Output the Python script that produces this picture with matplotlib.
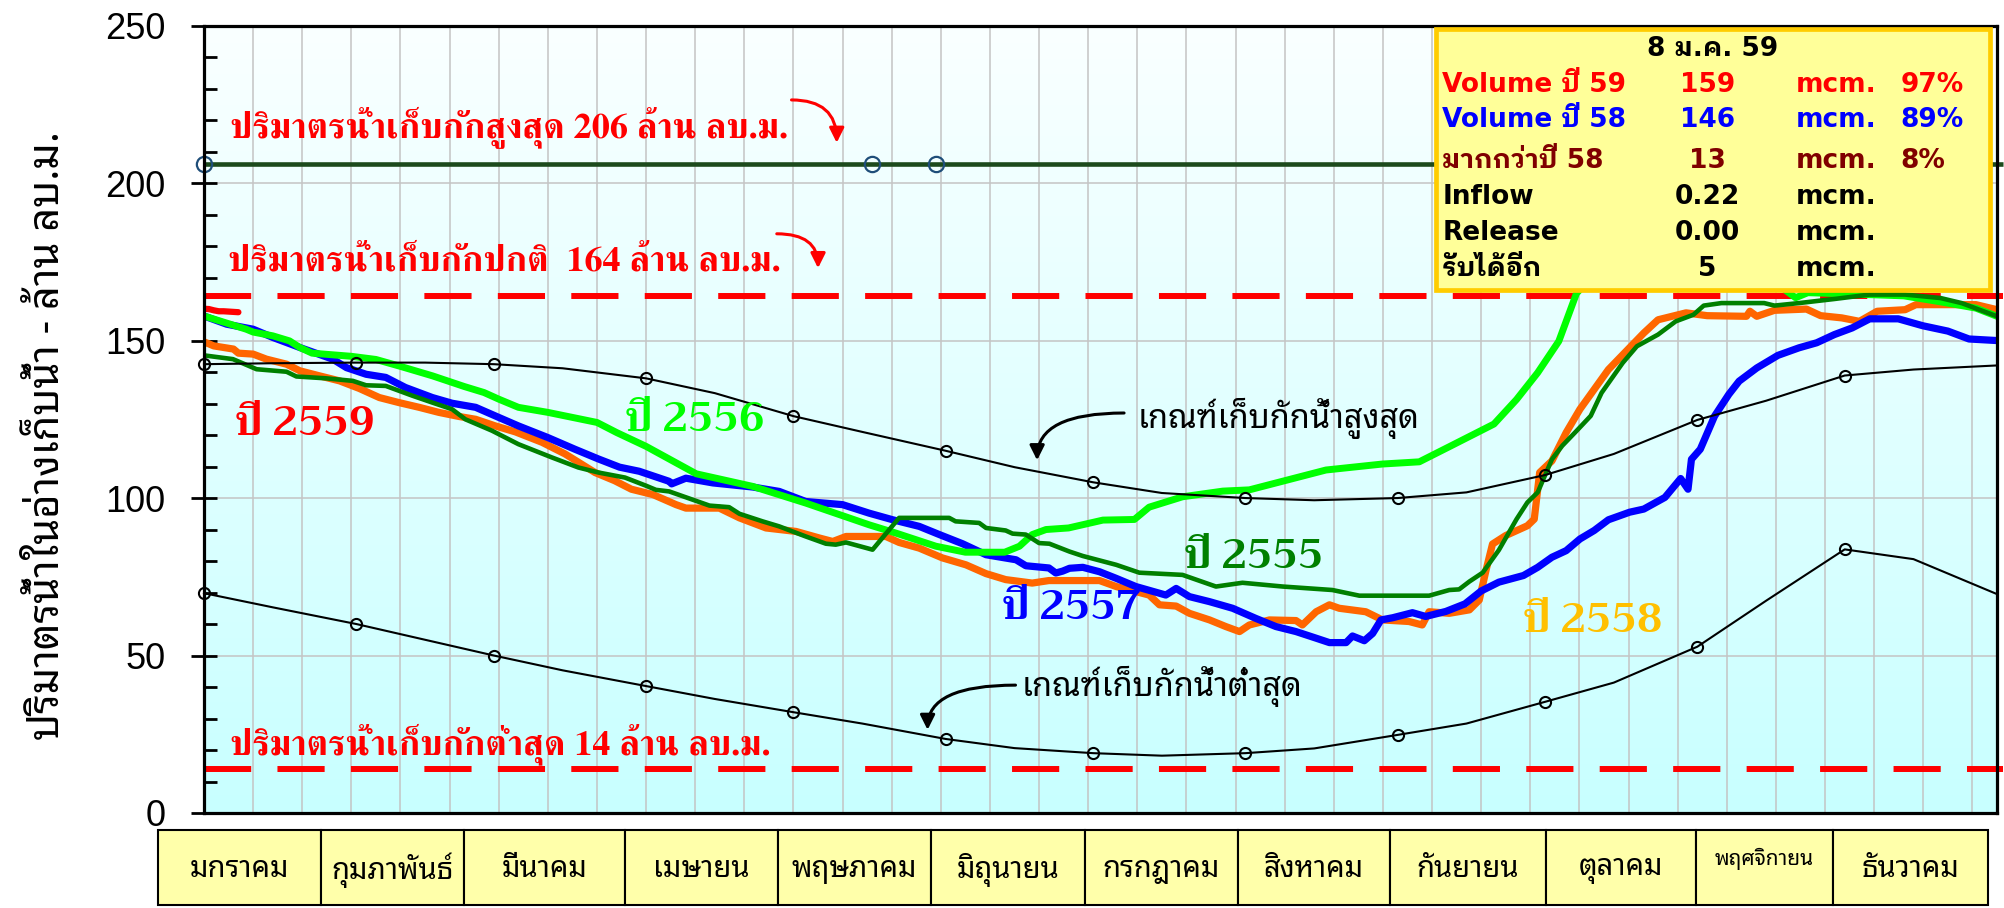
import numpy as np
import matplotlib
matplotlib.use("Agg")
import matplotlib.pyplot as plt
from matplotlib.colors import LinearSegmentedColormap
from matplotlib.patches import Rectangle
from matplotlib.ticker import MultipleLocator

# ---------------------------------------------------------------- data
# x = day of year (1 Jan = 0), y = storage in million m3
months_th = ["มกราคม", "กุมภาพันธ์", "มีนาคม", "เมษายน", "พฤษภาคม", "มิถุนายน",
             "กรกฎาคม", "สิงหาคม", "กันยายน", "ตุลาคม", "พฤศจิกายน", "ธันวาคม"]

max_storage = 206
normal_storage = 164
min_storage = 14
max_storage_mark_days = [0, 136, 149]

# rule curves, points on the 1st and mid of each month
rule_days = [0, 14, 31, 45, 59, 73, 90, 104, 120, 134, 151, 165, 181,
             195, 212, 226, 243, 257, 273, 287, 304, 318, 334, 348, 365]
rule_upper = [142.5, 142.8, 143.0, 143.0, 142.5, 141.2, 138.0, 133.3, 126.0,
              121.0, 115.0, 109.8, 105.0, 101.6, 100.0, 99.3, 100.0, 101.8,
              107.3, 114.0, 124.8, 130.9, 138.9, 140.8, 142.1]
rule_lower = [69.8, 65.3, 60.0, 55.0, 50.0, 45.3, 40.3, 36.2, 32.0, 28.4,
              23.5, 20.6, 19.0, 18.2, 19.0, 20.5, 24.8, 28.4, 35.3, 41.4,
              52.8, 67.4, 83.7, 80.6, 69.5]

# year 2559 (to 8 Jan)
y2559_days = [0, 1, 2, 3, 4, 5, 6, 7]
y2559_vals = [160.1, 160.0, 159.6, 159.3, 159.3, 159.2, 159.1, 159.0]

# year 2558
y2558_days = [0, 2, 6, 7, 10, 12.7, 16.8, 19.5, 23.5, 27.6, 31.6, 35.7, 39.7,
              43.8, 47.8, 51.9, 55.3, 59.3, 63.4, 68.8, 73.5, 79.6, 83.6, 87,
              91.4, 96.1, 98.1, 104.9, 109, 114.4, 120.5, 125.3, 128, 130.7,
              138.8, 141.5, 145.6, 150.3, 155.1, 159.2, 163.2, 168.6, 172,
              182.3, 185.7, 192.4, 194.5, 197.9, 200.6, 204.7, 208, 210.8,
              212.8, 216.9, 222.3, 223.6, 226.4, 229.1, 231.1, 236.5, 239.9,
              245.3, 248, 249.4, 253.5, 257.6, 259.6, 261, 262.3, 265, 269.4,
              270.8, 271.9, 274.4, 277.3, 280.1, 283, 285.9, 289.5, 293.1, 296,
              301.7, 306, 314, 314.7, 316.1, 319.7, 326.2, 329.1, 333.4, 337,
              340.6, 346.3, 348.5, 360.7, 365]
y2558_vals = [149.6, 148.3, 147.3, 146.0, 145.7, 144.1, 142.5, 140.4, 138.8,
              137.2, 134.8, 131.9, 130.3, 128.8, 127.2, 125.9, 125.0, 122.9,
              121.0, 117.7, 114.0, 108.1, 105.5, 102.8, 101.1, 97.9, 96.8, 96.8,
              93.7, 90.5, 89.4, 87.3, 86.2, 87.8, 87.8, 85.9, 84.1, 81.0, 78.8,
              76.0, 74.1, 73.0, 73.8, 73.8, 71.9, 69.2, 66.1, 65.7, 63.4, 61.3,
              59.2, 57.6, 59.7, 61.3, 61.1, 59.7, 63.9, 66.1, 65.0, 63.9, 61.3,
              60.8, 59.7, 63.9, 63.4, 64.5, 67.6, 77.2, 85.4, 88.1, 91.2, 93.3,
              108.1, 111.8, 120.8, 128.2, 134.5, 140.8, 146.6, 152.4, 156.6,
              158.8, 157.9, 157.7, 159.3, 157.7, 159.6, 160.0, 157.9, 157.2,
              156.1, 159.3, 159.8, 161.4, 161.4, 159.8]

# year 2557
y2557_days = [0, 4.6, 10, 14, 19.5, 26.2, 29, 33, 37, 41, 46.5, 50.5, 55.3,
              60, 64, 70, 75.5, 80.3, 84.6, 88.6, 94.7, 95.2, 98.1, 103.6,
              111.7, 117.1, 122.5, 130, 135.4, 140.2, 145.6, 149.7, 154.4,
              159.2, 165.3, 167.3, 172, 173.4, 174.8, 176.2, 178.9, 182.3,
              185.7, 189.7, 195.8, 197.9, 200.6, 204.7, 209.4, 214.1, 218.2,
              222.3, 226.4, 229.1, 232.5, 233.8, 236.2, 237.9, 239.6, 242, 246,
              248.7, 252.8, 256.7, 260, 263.6, 268.6, 271.5, 274.4, 277.3,
              280.1, 283, 285.9, 290.2, 293.1, 297.4, 300.6, 302.1, 302.8,
              304.6, 307.5, 310.4, 312.5, 316.1, 320.4, 324.7, 328.3, 331.9,
              335.5, 339.1, 344.9, 349.9, 355, 359.3, 365]
y2557_vals = [157.8, 155.2, 153.6, 151.0, 147.8, 144.1, 141.4, 139.3, 138.3,
              135.1, 131.9, 130.1, 128.8, 125.6, 122.9, 119.2, 115.5, 112.4,
              109.8, 108.5, 105.3, 104.5, 106.3, 104.8, 103.5, 102.1, 98.9,
              97.9, 95.2, 93.1, 91.0, 88.4, 85.5, 82.0, 80.4, 78.5, 77.8, 76.2,
              76.8, 77.7, 78.0, 76.6, 74.5, 71.9, 69.2, 71.3, 68.7, 67.1, 65.0,
              61.8, 59.2, 57.6, 55.5, 54.1, 54.1, 56.2, 54.7, 57.0, 61.3, 62.0,
              63.6, 62.4, 64.0, 66.4, 70.5, 73.3, 75.4, 78.0, 81.2, 83.3, 87.0,
              89.7, 93.1, 95.5, 96.5, 100.2, 106.2, 102.8, 112.3, 115.5, 126.0,
              132.9, 137.1, 141.3, 145.3, 147.7, 149.3, 151.9, 154.0, 156.9,
              156.9, 154.7, 153.0, 150.5, 150.0]

# year 2556
y2556_days = [0, 8.6, 10, 14, 17.4, 19.5, 22, 30, 35, 40, 46.5, 53, 57, 60,
              64, 70, 80, 84, 90, 100.2, 111.7, 122.5, 135.4, 140.8, 149, 155,
              163, 166, 168.6, 171.4, 176, 183, 189.4, 192.4, 199.2, 207.4,
              212.8, 228.4, 239.9, 247.4, 253.5, 262.6, 267.2, 271.5, 275.8,
              279.4, 286, 296, 310, 321.5, 324, 326.5, 335, 346, 353.5, 360.7,
              365]
y2556_vals = [157.8, 153.6, 152.7, 151.5, 149.9, 147.8, 146.0, 145.0, 144.0,
              141.8, 138.8, 135.4, 133.5, 131.4, 128.8, 127.2, 124.0, 120.8,
              116.4, 107.7, 103.7, 98.4, 91.5, 88.9, 84.7, 82.8, 82.8, 84.7,
              88.4, 90.0, 90.5, 93.0, 93.2, 97.1, 100.4, 102.2, 102.6, 108.9,
              110.8, 111.5, 116.3, 123.5, 131.3, 139.8, 149.8, 165.0, 176.0,
              179.0, 173.0, 166.5, 163.6, 165.2, 164.8, 164.2, 162.3, 160.3,
              157.7]

# year 2555
y2555_days = [0, 5.9, 10.7, 16.8, 18.8, 24.9, 30.3, 33, 37, 42.4, 46.5, 50.5,
              53.2, 58.6, 64, 70.8, 76.2, 80.3, 85.7, 90, 92, 94.7, 102.9,
              106.9, 109, 113.7, 117.1, 122.5, 126.6, 128.6, 130.7, 136.1,
              141.5, 151.7, 153, 157.8, 159.2, 163.2, 164.6, 167.3, 170, 172.1,
              176.2, 178.9, 185.7, 190.4, 199.2, 206, 211.4, 219.6, 229.7,
              235.2, 249.4, 253.5, 255.5, 257.6, 260.3, 263.6, 267.2, 269.4,
              271.5, 274.4, 276.5, 279.4, 282.3, 284.5, 288.8, 291.7, 296,
              299.6, 303.2, 305.3, 308.9, 317.6, 319.7, 324.7, 331.9, 339.1,
              346.3, 353.5, 357.8, 365]
y2555_vals = [145.3, 144.1, 140.9, 140.1, 138.6, 138.0, 137.2, 135.8, 135.6,
              132.5, 130.3, 128.2, 125.0, 121.4, 117.1, 112.9, 109.7, 108.1,
              106.5, 103.9, 102.6, 102.1, 97.6, 97.1, 95.0, 92.6, 91.0, 87.8,
              85.5, 85.2, 85.9, 83.6, 93.7, 93.7, 92.6, 92.1, 90.5, 89.7, 88.7,
              88.4, 85.7, 85.5, 83.0, 81.6, 78.8, 76.3, 75.6, 71.9, 73.1, 71.9,
              70.8, 69.0, 69.0, 70.8, 71.0, 73.5, 76.3, 83.5, 93.3, 98.6, 101.8,
              112.3, 116.6, 121.3, 126.1, 133.4, 142.9, 148.2, 151.9, 156.1,
              158.2, 161.1, 161.9, 161.9, 161.1, 161.9, 163.2, 164.6, 164.6,
              163.5, 161.9, 157.7]

report_date = "8 ม.ค. 59"
inflow = 0.22
release = 0.00

# ---------------------------------------------------------------- fonts
TH_SANS = ["Noto Sans Thai Looped", "DejaVu Sans"]
TH_SERIF = ["FreeSerif", "DejaVu Serif"]
YEAR_FONT = ["Trirong", "FreeSerif", "DejaVu Serif"]
BOX_FONT = ["DejaVu Sans", "IBM Plex Sans Thai Looped", "Noto Sans Thai Looped"]

# ---------------------------------------------------------------- figure
W, H = 2004, 908
fig = plt.figure(figsize=(W / 100, H / 100), dpi=100)
ax = fig.add_axes([204 / W, 95 / H, 1793 / W, 787.4 / H])

x_end = 365
ax.set_xlim(0, x_end)
ax.set_ylim(0, 250)

bg = LinearSegmentedColormap.from_list("bg", ["#C8FFFF", "#FAFFFF"])
ax.imshow(np.linspace(0, 1, 256).reshape(-1, 1), extent=[0, x_end, 0, 250],
          origin="lower", cmap=bg, aspect="auto", zorder=0)

ax.xaxis.set_major_locator(MultipleLocator(10))
ax.yaxis.set_major_locator(MultipleLocator(50))
ax.yaxis.set_minor_locator(MultipleLocator(10))
ax.grid(True, which="major", color="#C4C4C4", lw=1.1, zorder=1)
ax.tick_params(axis="x", length=0, labelbottom=False)
ax.tick_params(axis="y", which="major", direction="inout", length=19, width=2,
               pad=18, labelsize=26, labelfontfamily="Liberation Sans")
ax.tick_params(axis="y", which="minor", direction="in", length=9, width=2)
for s in ax.spines.values():
    s.set_linewidth(2.3)
    s.set_color("black")
    s.set_zorder(6)

ax.set_ylabel("ปริมาตรน้ำในอ่างเก็บน้ำ - ล้าน ลบ.ม.", family=TH_SANS,
              fontsize=30, va="center")
ax.yaxis.set_label_coords(-0.087, 0.48)

# storage limits
x_over = x_end + 1.3
ax.plot([0, x_over], [max_storage] * 2, color="#1C4A1C", lw=3.3, zorder=3,
        clip_on=False, solid_capstyle="butt")
ax.plot(max_storage_mark_days, [max_storage] * len(max_storage_mark_days),
        ls="none", marker="o", ms=11, mfc="none", mec="#1F4E79", mew=1.6,
        zorder=4, clip_on=False)
for lvl in (normal_storage, min_storage):
    ax.plot([0, x_over], [lvl] * 2, color="#FF0000", lw=4.3,
            ls=(0, (7.9, 4.4)), dash_capstyle="butt", zorder=3, clip_on=False)

# yearly storage curves
ax.plot(y2558_days, y2558_vals, color="#FF6600", lw=5.2, zorder=4,
        solid_joinstyle="round")
ax.plot(y2557_days, y2557_vals, color="#0000FF", lw=5.2, zorder=4.1,
        solid_joinstyle="round")
ax.plot(y2556_days, y2556_vals, color="#00FF00", lw=5.0, zorder=4.2,
        solid_joinstyle="round")
ax.plot(y2555_days, y2555_vals, color="#008000", lw=3.3, zorder=4.3,
        solid_joinstyle="round")
ax.plot(y2559_days, y2559_vals, color="#FF0000", lw=4.5, zorder=4.4,
        solid_capstyle="round")

# rule curves
for vals in (rule_upper, rule_lower):
    ax.plot(rule_days, vals, color="black", lw=1.5, marker="o", ms=8,
            mfc="none", mec="black", mew=1.5,
            markevery=slice(0, len(rule_days) - 1, 2), zorder=5, clip_on=False)

# labels of the curves
year_lbl = dict(family=YEAR_FONT, fontsize=29, fontweight="bold", va="center",
                ha="left", zorder=7)
ax.text(6.5, 123, "ปี 2559", color="#FF0000", **year_lbl)
ax.text(85.9, 124.3, "ปี 2556", color="#00FF00", **year_lbl)
ax.text(199.8, 80.8, "ปี 2555", color="#008000", **year_lbl)
ax.text(162.6, 64.6, "ปี 2557", color="#0000FF", **year_lbl)
ax.text(268.7, 60.5, "ปี 2558", color="#FFC000", **year_lbl)

lim_lbl = dict(family=TH_SERIF, fontsize=26, fontweight="bold", color="#FF0000",
               va="center", ha="left", zorder=7)
ax.text(5.3, 217.5, f"ปริมาตรน้ำเก็บกักสูงสุด {max_storage} ล้าน ลบ.ม.", **lim_lbl)
ax.text(4.8, 175, f"ปริมาตรน้ำเก็บกักปกติ  {normal_storage} ล้าน ลบ.ม.", **lim_lbl)
ax.text(5.3, 22, f"ปริมาตรน้ำเก็บกักต่ำสุด {min_storage} ล้าน ลบ.ม.", **lim_lbl)

curve_arrow = dict(arrowstyle="-|>", connectionstyle="angle3,angleA=0,angleB=90",
                   lw=2.2, mutation_scale=22, shrinkA=0, shrinkB=0)
ax.annotate("", xy=(128.8, 212.8), xytext=(119.6, 226.4),
            arrowprops=dict(color="#FF0000", **curve_arrow), zorder=7)
ax.annotate("", xy=(125.0, 173.0), xytext=(116.6, 183.9),
            arrowprops=dict(color="#FF0000", **curve_arrow), zorder=7)

rule_lbl = dict(family=TH_SANS, fontsize=23.5, color="black", va="center",
                ha="left", zorder=7)
ax.text(190, 125.4, "เกณฑ์เก็บกักน้ำสูงสุด", **rule_lbl)
ax.text(166.5, 40.3, "เกณฑ์เก็บกักน้ำต่ำสุด", **rule_lbl)
ax.annotate("", xy=(169.6, 112.0), xytext=(187.3, 127.0),
            arrowprops=dict(color="black", **curve_arrow), zorder=7)
ax.annotate("", xy=(147.3, 26.4), xytext=(165.2, 40.6),
            arrowprops=dict(color="black", **curve_arrow), zorder=7)

# ---------------------------------------------------------------- status box
vol_now = y2559_vals[-1]
vol_last = y2558_vals[y2558_days.index(y2559_days[-1])]
diff = vol_now - vol_last
spare = normal_storage - vol_now
pct = lambda v: f"{round(v / normal_storage * 100):d}%"

ax.add_patch(Rectangle((250.8, 166.1), 112.8, 82.9, facecolor="#FFFF99",
                       edgecolor="#FFCC00", lw=3.4, zorder=8, clip_on=False))
box_txt = dict(family=BOX_FONT, fontsize=19, fontweight="bold", va="center",
               zorder=9, clip_on=False)
ax.text(307.2, 242.6, report_date, ha="center", color="black", **box_txt)
rows = [
    ("Volume ปี 59", f"{vol_now:.0f}", "mcm.", pct(vol_now), "#FF0000", 231.2),
    ("Volume ปี 58", f"{vol_last:.0f}", "mcm.", pct(vol_last), "#0000FF", 220.0),
    ("มากกว่าปี 58", f"{diff:.0f}", "mcm.", pct(diff), "#800000", 207.1),
    ("Inflow", f"{inflow:.2f}", "mcm.", "", "black", 195.5),
    ("Release", f"{release:.2f}", "mcm.", "", "black", 184.2),
    ("รับได้อีก", f"{spare:.0f}", "mcm.", "", "black", 172.6),
]
for name, val, unit, p, col, yy in rows:
    ax.text(252.1, yy, name, ha="left", color=col, **box_txt)
    ax.text(306.0, yy, val, ha="center", color=col, **box_txt)
    ax.text(324.1, yy, unit, ha="left", color=col, **box_txt)
    if p:
        ax.text(345.3, yy, p, ha="left", color=col, **box_txt)

# ---------------------------------------------------------------- month table
cell_edges_px = [158, 321, 464, 625, 778, 931, 1085, 1238, 1390, 1546, 1696,
                 1833, 1988]
small_months = {"พฤศจิกายน"}
tax = fig.add_axes([158 / W, 3 / H, 1830 / W, 75 / H])
tax.set_xlim(cell_edges_px[0], cell_edges_px[-1])
tax.set_ylim(0, 1)
tax.axis("off")
for i, name in enumerate(months_th):
    x0, x1 = cell_edges_px[i], cell_edges_px[i + 1]
    tax.add_patch(Rectangle((x0, 0), x1 - x0, 1, facecolor="#FFFFAA",
                            edgecolor="black", lw=1.5, clip_on=False))
    small = name in small_months
    tax.text((x0 + x1) / 2, 0.62 if small else 0.47, name, ha="center",
             va="center", family=TH_SANS, fontsize=15 if small else 21)

fig.savefig("out.png", dpi=100)
